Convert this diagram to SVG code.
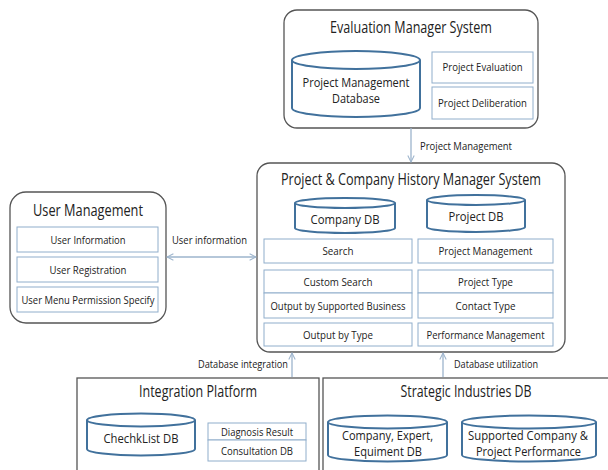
<svg xmlns="http://www.w3.org/2000/svg" width="608" height="470" viewBox="0 0 608 470">
<style>
text{font-family:"Open Sans","Noto Sans",sans-serif;fill:#222;text-anchor:middle}
.outer{fill:#fff;stroke:#555;stroke-width:1.3}
.box{fill:#fff;stroke:#90aecb;stroke-width:1}
.cyl{fill:#fff;stroke:#41719c;stroke-width:2}
.title{font-size:15.5px}
.cyt{font-size:13.5px}
.bt{font-size:11.5px}
.lbl{font-size:11px;text-anchor:start}
.conn{stroke:#9db4cc;stroke-width:1.3;fill:none}
</style>
<defs>
<marker id="ah" viewBox="0 0 10 10" refX="9" refY="5" markerWidth="8" markerHeight="8" orient="auto-start-reverse" markerUnits="userSpaceOnUse">
<path d="M1,1 L9,5 L1,9" fill="none" stroke="#9db4cc" stroke-width="1.3"/>
</marker>
</defs>
<rect width="608" height="470" fill="#fff"/>

<g id="evaluation-manager-system">
<rect class="outer" x="284" y="10" width="254" height="118" rx="13"/>
<text class="title" x="411" y="33" textLength="162" lengthAdjust="spacingAndGlyphs">Evaluation Manager System</text>
<path class="cyl" d="M292,60 v48 a64,9 0 0 0 128,0 v-48"/>
<ellipse class="cyl" cx="356" cy="60" rx="64" ry="9"/>
<text class="cyt"><tspan x="356" y="87" textLength="107" lengthAdjust="spacingAndGlyphs">Project Management</tspan><tspan x="356" y="103" textLength="48" lengthAdjust="spacingAndGlyphs">Database</tspan></text>
<rect class="box" x="432" y="52" width="101" height="31"/>
<text class="bt" x="482.5" y="71" textLength="80" lengthAdjust="spacingAndGlyphs">Project Evaluation</text>
<rect class="box" x="432" y="87" width="101" height="32"/>
<text class="bt" x="482.5" y="107" textLength="89" lengthAdjust="spacingAndGlyphs">Project Deliberation</text>
</g>

<g id="project-company-history-manager-system">
<rect class="outer" x="257" y="163" width="308" height="189" rx="13"/>
<text class="title" x="411" y="185" textLength="260" lengthAdjust="spacingAndGlyphs">Project &amp; Company History Manager System</text>
<path class="cyl" d="M295,203 v25 a50,5 0 0 0 100,0 v-25"/>
<ellipse class="cyl" cx="345" cy="203" rx="50" ry="5"/>
<text class="cyt" x="345" y="224" textLength="69" lengthAdjust="spacingAndGlyphs">Company DB</text>
<path class="cyl" d="M427,200 v27 a49,5 0 0 0 98,0 v-27"/>
<ellipse class="cyl" cx="476" cy="200" rx="49" ry="5"/>
<text class="cyt" x="476" y="221" textLength="55" lengthAdjust="spacingAndGlyphs">Project DB</text>
<rect class="box" x="264" y="239" width="148" height="24"/>
<text class="bt" x="338" y="255" textLength="31" lengthAdjust="spacingAndGlyphs">Search</text>
<rect class="box" x="264" y="270" width="148" height="23"/>
<text class="bt" x="338" y="285.5" textLength="69" lengthAdjust="spacingAndGlyphs">Custom Search</text>
<rect class="box" x="264" y="293" width="148" height="25"/>
<text class="bt" x="338" y="310" textLength="135" lengthAdjust="spacingAndGlyphs">Output by Supported Business</text>
<rect class="box" x="264" y="323" width="148" height="23"/>
<text class="bt" x="338" y="338.5" textLength="70" lengthAdjust="spacingAndGlyphs">Output by Type</text>
<rect class="box" x="418" y="239" width="135" height="24"/>
<text class="bt" x="485.5" y="255" textLength="94" lengthAdjust="spacingAndGlyphs">Project Management</text>
<rect class="box" x="418" y="270" width="135" height="23"/>
<text class="bt" x="485.5" y="285.5" textLength="55" lengthAdjust="spacingAndGlyphs">Project Type</text>
<rect class="box" x="418" y="293" width="135" height="25"/>
<text class="bt" x="485.5" y="310" textLength="60" lengthAdjust="spacingAndGlyphs">Contact Type</text>
<rect class="box" x="418" y="323" width="135" height="23"/>
<text class="bt" x="485.5" y="338.5" textLength="118" lengthAdjust="spacingAndGlyphs">Performance Management</text>
</g>

<g id="user-management">
<rect class="outer" x="10" y="192" width="156" height="131" rx="16"/>
<text class="title" x="88" y="216" textLength="110" lengthAdjust="spacingAndGlyphs">User Management</text>
<rect class="box" x="17" y="227" width="141" height="25"/>
<text class="bt" x="88" y="244" textLength="75" lengthAdjust="spacingAndGlyphs">User Information</text>
<rect class="box" x="17" y="257" width="141" height="25"/>
<text class="bt" x="88" y="274" textLength="77" lengthAdjust="spacingAndGlyphs">User Registration</text>
<rect class="box" x="17" y="287" width="141" height="25"/>
<text class="bt" x="88" y="304" textLength="133" lengthAdjust="spacingAndGlyphs">User Menu Permission Specify</text>
</g>

<g id="integration-platform">
<rect class="outer" x="77" y="378" width="242" height="110"/>
<text class="title" x="198" y="397" textLength="118" lengthAdjust="spacingAndGlyphs">Integration Platform</text>
<path class="cyl" d="M87,420 v29 a54,6.5 0 0 0 108,0 v-29"/>
<ellipse class="cyl" cx="141" cy="420" rx="54" ry="6.5"/>
<text class="cyt" x="141" y="443" textLength="75" lengthAdjust="spacingAndGlyphs">ChechkList DB</text>
<rect class="box" x="208" y="423" width="98" height="17"/>
<text class="bt" x="257" y="436" textLength="72" lengthAdjust="spacingAndGlyphs">Diagnosis Result</text>
<rect class="box" x="208" y="440" width="98" height="21"/>
<text class="bt" x="257" y="455" textLength="72" lengthAdjust="spacingAndGlyphs">Consultation DB</text>
</g>

<g id="strategic-industries-db">
<rect class="outer" x="323" y="378" width="300" height="110"/>
<text class="title" x="466" y="397" textLength="131" lengthAdjust="spacingAndGlyphs">Strategic Industries DB</text>
<path class="cyl" d="M328,422 v33 a59.5,6.5 0 0 0 119,0 v-33"/>
<ellipse class="cyl" cx="387.5" cy="422" rx="59.5" ry="6.5"/>
<text class="cyt"><tspan x="387.5" y="440" textLength="91" lengthAdjust="spacingAndGlyphs">Company, Expert,</tspan><tspan x="388" y="456" textLength="68" lengthAdjust="spacingAndGlyphs">Equiment DB</tspan></text>
<path class="cyl" d="M462,422 v33 a67,6.5 0 0 0 134,0 v-33"/>
<ellipse class="cyl" cx="529" cy="422" rx="67" ry="6.5"/>
<text class="cyt"><tspan x="528" y="440" textLength="120" lengthAdjust="spacingAndGlyphs">Supported Company &amp;</tspan><tspan x="528.5" y="456" textLength="105" lengthAdjust="spacingAndGlyphs">Project Performance</tspan></text>
</g>

<g id="connectors">
<line class="conn" x1="411" y1="128" x2="411" y2="162" marker-end="url(#ah)"/>
<text class="lbl" x="420" y="150" textLength="92" lengthAdjust="spacingAndGlyphs">Project Management</text>
<line class="conn" x1="167" y1="257" x2="256" y2="257" marker-start="url(#ah)" marker-end="url(#ah)"/>
<text class="lbl" x="172" y="244" textLength="75" lengthAdjust="spacingAndGlyphs">User information</text>
<line class="conn" x1="292" y1="377" x2="292" y2="353" marker-end="url(#ah)"/>
<text class="lbl" x="198" y="368" textLength="90" lengthAdjust="spacingAndGlyphs">Database integration</text>
<line class="conn" x1="443" y1="377" x2="443" y2="353" marker-end="url(#ah)"/>
<text class="lbl" x="454" y="368" textLength="84" lengthAdjust="spacingAndGlyphs">Database utilization</text>
</g>
</svg>
